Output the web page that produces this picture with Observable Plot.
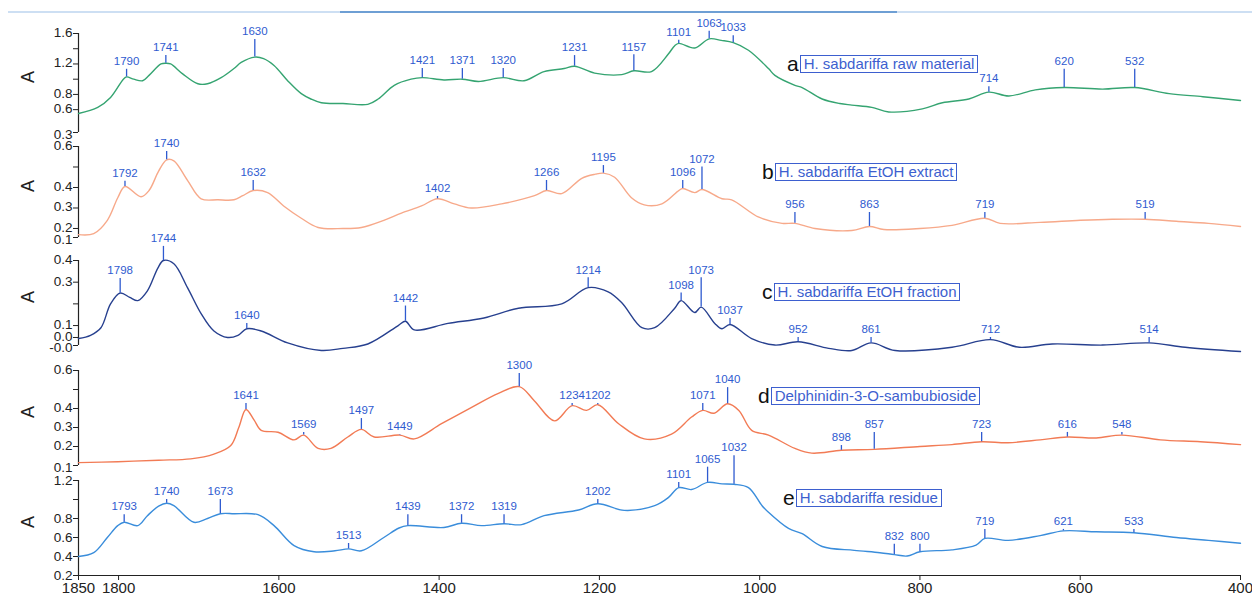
<!DOCTYPE html>
<html><head><meta charset="utf-8">
<script src="https://cdn.jsdelivr.net/npm/d3@7"></script>
<script src="https://cdn.jsdelivr.net/npm/@observablehq/plot@0.6"></script>
<style>
body{margin:0;background:#fff;}
#wrap{position:relative;width:1252px;height:595px;overflow:hidden;font-family:"Liberation Sans",Arial,sans-serif;background:#fff;}
#wrap svg{position:absolute;left:0;top:0;}
.topline{position:absolute;left:8px;top:11px;width:1244px;height:2px;background:#cddff3;}
.topline2{position:absolute;left:340px;top:11px;width:557px;height:2px;background:#6e9fd4;}
.lg{position:absolute;display:flex;align-items:center;}
.lg .l{font-size:21px;color:#111;margin-right:1px;line-height:1;}
.lg .b{border:1.5px solid #3d5fcf;color:#3d5fcf;font-size:15px;padding:0 3px;line-height:16px;white-space:nowrap;}
</style></head><body><div id="wrap"><div class="topline"></div><div class="topline2"></div></div>
<script>
// ---- data ----
const xTicks = [1850,1800,1600,1400,1200,1000,800,600,400];

const specA = [[1850,0.55],[1826,0.63],[1810,0.76],[1794,1.0],[1790,1.03],[1781,1.0],[1770,0.98],[1762,1.05],[1747,1.2],[1741,1.21],[1735,1.2],[1720,1.07],[1701,0.94],[1689,0.94],[1672,1.02],[1656,1.14],[1647,1.22],[1630,1.29],[1619,1.27],[1606,1.18],[1589,0.98],[1572,0.81],[1560,0.74],[1547,0.69],[1520,0.68],[1489,0.67],[1476,0.74],[1456,0.92],[1435,1.0],[1421,1.02],[1394,0.99],[1371,1.0],[1351,0.97],[1320,1.02],[1294,0.98],[1269,1.1],[1244,1.14],[1231,1.17],[1206,1.08],[1172,1.06],[1157,1.11],[1135,1.1],[1114,1.33],[1106,1.44],[1101,1.47],[1081,1.41],[1063,1.53],[1048,1.51],[1033,1.48],[1014,1.38],[989,1.14],[981,1.05],[956,0.92],[947,0.89],[922,0.74],[900,0.68],[885,0.66],[860,0.63],[839,0.57],[797,0.61],[772,0.69],[739,0.74],[714,0.83],[689,0.78],[656,0.86],[620,0.89],[572,0.87],[532,0.89],[489,0.81],[447,0.77],[400,0.72]];
const peaksA = [[1790,1.13],[1741,1.31],[1630,1.52],[1421,1.14],[1371,1.14],[1320,1.14],[1231,1.31],[1157,1.32],[1101,1.51],[1063,1.63],[1033,1.57],[714,0.9],[620,1.13],[532,1.13]];
const ticksA = [0.3,0.6,0.8,1.0,1.2,1.4,1.6];
const labelsA = ["0.3","0.6","0.8","","1.2","","1.6"];
const nameA = "H. sabdariffa raw material";

const specB = [[1850,0.17],[1831,0.175],[1814,0.24],[1801,0.35],[1792,0.405],[1772,0.355],[1762,0.385],[1750,0.48],[1740,0.535],[1731,0.53],[1714,0.435],[1697,0.345],[1676,0.34],[1656,0.34],[1645,0.36],[1632,0.385],[1614,0.375],[1594,0.31],[1572,0.25],[1551,0.205],[1520,0.2],[1497,0.205],[1469,0.24],[1447,0.275],[1422,0.31],[1402,0.345],[1381,0.32],[1360,0.3],[1322,0.32],[1281,0.36],[1266,0.385],[1247,0.37],[1222,0.445],[1205,0.465],[1195,0.47],[1181,0.45],[1160,0.35],[1144,0.315],[1122,0.32],[1101,0.385],[1096,0.395],[1081,0.375],[1072,0.39],[1047,0.345],[1035,0.34],[1001,0.255],[972,0.225],[956,0.225],[931,0.2],[885,0.19],[863,0.21],[845,0.195],[800,0.2],[760,0.215],[719,0.25],[700,0.225],[650,0.23],[600,0.24],[560,0.245],[519,0.245],[480,0.235],[440,0.225],[400,0.21]];
const peaksB = [[1792,0.43],[1740,0.575],[1632,0.434],[1402,0.356],[1266,0.434],[1195,0.507],[1096,0.434],[1072,0.5],[956,0.278],[863,0.278],[719,0.278],[519,0.278]];
const ticksB = [0.156,0.2,0.3,0.4,0.5,0.6];
const labelsB = ["0.1","0.2","0.3","0.4","","0.6"];
const nameB = "H. sabdariffa EtOH extract";

const specC = [[1850,0.04],[1835,0.055],[1822,0.09],[1810,0.2],[1798,0.25],[1786,0.23],[1776,0.215],[1764,0.26],[1751,0.365],[1744,0.4],[1731,0.385],[1714,0.275],[1697,0.155],[1681,0.075],[1664,0.045],[1651,0.055],[1640,0.085],[1622,0.075],[1589,0.02],[1547,-0.015],[1520,-0.005],[1489,0.015],[1451,0.1],[1442,0.12],[1431,0.08],[1389,0.11],[1344,0.135],[1301,0.18],[1247,0.2],[1214,0.275],[1189,0.255],[1172,0.205],[1147,0.09],[1131,0.09],[1106,0.18],[1098,0.215],[1081,0.16],[1073,0.185],[1056,0.11],[1047,0.085],[1037,0.105],[1010,0.04],[981,0.01],[952,0.025],[914,-0.005],[885,-0.015],[861,0.02],[831,-0.015],[760,0.0],[712,0.035],[676,0.0],[635,0.015],[572,0.01],[514,0.02],[469,0.0],[400,-0.02]];
const peaksC = [[1798,0.317],[1744,0.465],[1640,0.11],[1442,0.19],[1214,0.32],[1098,0.25],[1073,0.32],[1037,0.133],[952,0.045],[861,0.045],[712,0.045],[514,0.045]];
const ticksC = [0.008,0.045,0.1,0.2,0.3,0.4];
const labelsC = ["-0.0","0.0","0.1","","0.3","0.4"];
const nameC = "H. sabdariffa EtOH fraction";

const specD = [[1850,0.115],[1801,0.12],[1750,0.128],[1710,0.135],[1681,0.16],[1660,0.205],[1650,0.3],[1641,0.395],[1631,0.34],[1622,0.285],[1601,0.275],[1581,0.235],[1569,0.26],[1551,0.19],[1535,0.19],[1514,0.25],[1497,0.29],[1481,0.25],[1449,0.26],[1431,0.24],[1397,0.32],[1360,0.405],[1326,0.48],[1300,0.515],[1281,0.44],[1256,0.335],[1234,0.415],[1216,0.39],[1202,0.42],[1176,0.32],[1144,0.24],[1110,0.265],[1085,0.355],[1071,0.39],[1057,0.375],[1040,0.425],[1026,0.39],[1010,0.285],[989,0.26],[956,0.19],[935,0.165],[898,0.18],[857,0.185],[800,0.2],[760,0.21],[723,0.225],[690,0.22],[650,0.235],[616,0.25],[580,0.245],[548,0.26],[500,0.235],[450,0.225],[400,0.21]];
const peaksD = [[1641,0.426],[1569,0.274],[1497,0.347],[1449,0.263],[1300,0.584],[1234,0.426],[1202,0.426],[1071,0.426],[1040,0.51],[898,0.205],[857,0.274],[723,0.274],[616,0.274],[548,0.274]];
const ticksD = [0.1,0.2,0.3,0.4,0.5,0.6];
const labelsD = ["0.1","0.2","0.3","0.4","","0.6"];
const nameD = "Delphinidin-3-O-sambubioside";

const specE = [[1850,0.4],[1831,0.44],[1814,0.6],[1801,0.725],[1793,0.76],[1776,0.725],[1764,0.83],[1750,0.93],[1740,0.96],[1731,0.935],[1706,0.76],[1689,0.8],[1673,0.85],[1656,0.85],[1626,0.84],[1606,0.725],[1581,0.515],[1556,0.45],[1530,0.46],[1513,0.48],[1497,0.46],[1469,0.6],[1450,0.7],[1439,0.725],[1394,0.705],[1372,0.75],[1347,0.725],[1319,0.745],[1297,0.735],[1269,0.83],[1226,0.89],[1202,0.955],[1169,0.885],[1131,0.935],[1114,1.02],[1101,1.125],[1085,1.105],[1065,1.18],[1047,1.165],[1032,1.16],[1014,1.125],[997,0.935],[989,0.865],[964,0.695],[947,0.64],[922,0.505],[882,0.465],[850,0.44],[832,0.42],[816,0.405],[800,0.45],[760,0.47],[730,0.52],[719,0.59],[690,0.57],[650,0.62],[621,0.67],[580,0.66],[533,0.65],[480,0.6],[440,0.57],[400,0.54]];
const peaksE = [[1793,0.84],[1740,1.0],[1673,1.0],[1513,0.537],[1439,0.84],[1372,0.84],[1319,0.84],[1202,1.0],[1101,1.18],[1065,1.34],[1032,1.46],[832,0.53],[800,0.53],[719,0.685],[621,0.685],[533,0.685]];
const ticksE = [0.2,0.4,0.6,0.8,1.0,1.2];
const labelsE = ["0.2","0.4","0.6","0.8","","1.2"];
const nameE = "H. sabdariffa residue";

// ---- layout / style ----
const panels = [
  {letter:"a", spec:specA, peaks:peaksA, ticks:ticksA, labels:labelsA, name:nameA, color:"#35a471", top:33, bottom:132, lg:[787,53]},
  {letter:"b", spec:specB, peaks:peaksB, ticks:ticksB, labels:labelsB, name:nameB, color:"#f7a98a", top:146, bottom:237, lg:[762,161]},
  {letter:"c", spec:specC, peaks:peaksC, ticks:ticksC, labels:labelsC, name:nameC, color:"#27408f", top:260, bottom:345, lg:[762,281]},
  {letter:"d", spec:specD, peaks:peaksD, ticks:ticksD, labels:labelsD, name:nameD, color:"#f27b55", top:370, bottom:465, lg:[758,385]},
  {letter:"e", spec:specE, peaks:peaksE, ticks:ticksE, labels:labelsE, name:nameE, color:"#3a8ddb", top:480, bottom:575, lg:[783,487]}
];
const W = 1252, H = 595, peakColor = "#2f5bd0";

function curveAt(spec, w){
  const p = spec.find(d => d[0] === w);
  if (p) return p[1];
  for (let i = 0; i < spec.length - 1; i++){
    const [w0,v0] = spec[i], [w1,v1] = spec[i+1];
    if ((w0 - w) * (w1 - w) <= 0) return v0 + (v1 - v0) * (w - w0) / (w1 - w0);
  }
  return null;
}

const wrap = document.getElementById("wrap");
panels.forEach((p, idx) => {
  const last = idx === panels.length - 1;
  const upper = p.ticks.slice(1).map((t,i) => ({t, s: p.labels[i+1]})).filter(d => d.s !== "");
  const lower = [{t: p.ticks[0], s: p.labels[0]}];
  const peakData = p.peaks.map(([w,top]) => ({w, top, base: curveAt(p.spec, w), label: String(w)}));
  const marks = [
    Plot.ruleX([1850], {stroke:"#222", strokeWidth:1.2}),
    Plot.axisY({ticks:p.ticks, tickFormat:() => null, tickSize:5, label:null, stroke:"#222"}),
    Plot.text(upper, {x:() => 1850, y:"t", text:"s", textAnchor:"end", dx:-6, dy:(last ? 0 : -1), fontSize:13.5, fill:"#222"}),
    Plot.text(lower, {x:() => 1850, y:"t", text:"s", textAnchor:"end", dx:-6, dy:(last ? 0 : 2), fontSize:13.5, fill:"#222"}),
    Plot.text([p.letter], {text:() => "A", frameAnchor:"left", dx:-50, rotate:-90, fontSize:18, fill:"#222"}),
    Plot.line(p.spec, {x:d => d[0], y:d => d[1], stroke:p.color, strokeWidth:1.4, curve:"catmull-rom"}),
    Plot.ruleX(peakData, {x:"w", y1:"base", y2:"top", stroke:peakColor, strokeWidth:1.3}),
    Plot.text(peakData, {x:"w", y:"top", text:"label", dy:-8, fill:peakColor, fontSize:11.5})
  ];
  if (last){
    marks.push(Plot.ruleY([p.ticks[0]], {stroke:"#222", strokeWidth:1.2}));
    marks.push(Plot.axisX({ticks:xTicks, tickFormat:d3.format("d"), tickSize:5, tickPadding:2, fontSize:15, label:null, stroke:"#222", fill:"#222"}));
  }
  const svg = Plot.plot({
    width:W, height:H,
    marginLeft:78, marginRight:12, marginTop:p.top, marginBottom:H - p.bottom,
    style:{background:"transparent", overflow:"visible", fontFamily:"'Liberation Sans', Arial, sans-serif"},
    x:{domain:[1850,400], ...(last ? {} : {axis:null})},
    y:{domain:[p.ticks[0], p.ticks[p.ticks.length-1]]},
    marks
  });
  wrap.appendChild(svg);
  const lg = document.createElement("div");
  lg.className = "lg";
  lg.style.left = p.lg[0] + "px";
  lg.style.top = p.lg[1] + "px";
  lg.innerHTML = `<span class="l">${p.letter}</span><span class="b">${p.name}</span>`;
  wrap.appendChild(lg);
});
</script></body></html>
